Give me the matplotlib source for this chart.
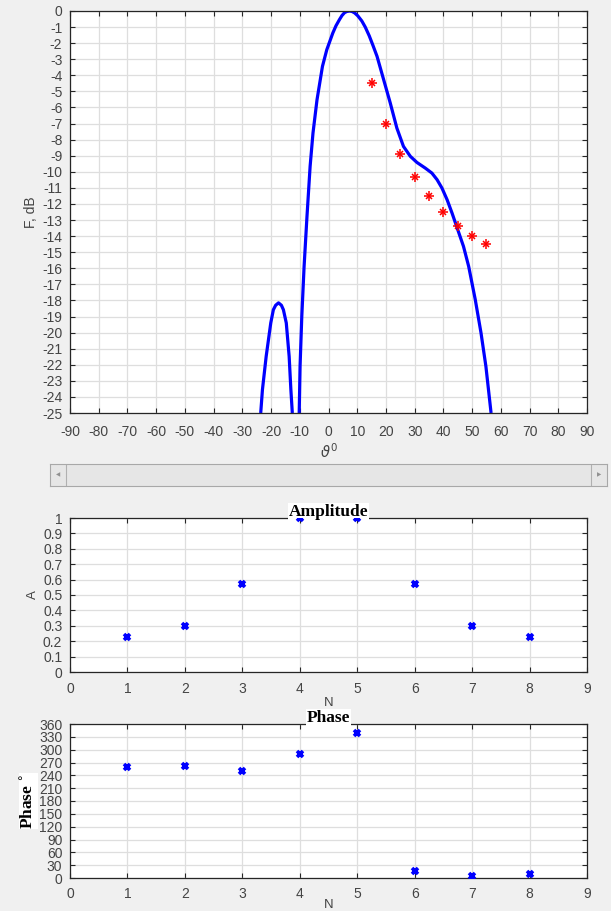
import matplotlib
matplotlib.use('Agg')
import matplotlib.pyplot as plt
import numpy as np

plt.rcParams['axes.unicode_minus'] = False
plt.rcParams['font.family'] = ['Liberation Sans', 'DejaVu Sans']

# pattern (side lobe and main lobe, dB)
side_theta = [-23.6, -23.0, -21.7, -20.1, -19.2, -18.4, -17.4, -16.4, -15.7, -14.7, -13.7, -13.1, -12.6]
side_db = [-25.0, -23.55, -21.48, -19.4, -18.58, -18.3, -18.15, -18.3, -18.58, -19.4, -21.48, -23.55, -25.0]

main_theta = [-10.2, -9.9, -9.3, -8.5, -7.5, -6.4, -5.4, -4.0, -2.1, -0.6, 1.5, 2.6, 3.8, 4.7, 5.6, 6.4,
              7.3, 8.2, 9.1, 10.2, 11.6, 12.8, 14.2, 15.5, 16.9, 19.2, 21.5, 23.8, 26.1, 28.5, 30.8,
              33.7, 36.0, 37.8, 39.5, 41.3, 43.0, 45.0, 47.0, 48.8, 51.1, 53.1, 54.8, 56.6]
main_db = [-25.0, -22.1, -19.0, -15.9, -12.8, -9.66, -7.59, -5.52, -3.44, -2.41, -1.37, -0.92, -0.54, -0.28,
           -0.1, -0.03, 0.0, -0.03, -0.12, -0.3, -0.62, -1.0, -1.55, -2.15, -2.82, -4.27, -5.72, -7.28,
           -8.42, -9.04, -9.42, -9.77, -10.08, -10.49, -11.01, -11.74, -12.56, -13.6, -14.64, -15.88,
           -17.95, -20.02, -22.1, -25.0]

# target points (red stars)
target_theta = [15, 20, 25, 30, 35, 40, 45, 50, 55]
target_db = [-4.5, -7.0, -8.9, -10.3, -11.5, -12.5, -13.4, -14.0, -14.5]

# element excitation
elem_n = [1, 2, 3, 4, 5, 6, 7, 8]
elem_amp = [0.227, 0.301, 0.569, 1.0, 1.0, 0.569, 0.301, 0.227]
elem_phase = [260.5, 262.8, 250.4, 289.2, 339.8, 17.1, 5.4, 8.6]

W, H = 611, 911
bg = '#f0f0f0'
txt = '#444444'
gridc = '#dedede'

fig = plt.figure(figsize=(W / 100, H / 100), dpi=100, facecolor=bg)


def box(x0, y0, x1, y1):
    return [x0 / W, 1 - y1 / H, (x1 - x0) / W, (y1 - y0) / H]


def style(ax, xpad):
    ax.set_facecolor('white')
    for s in ax.spines.values():
        s.set_color('#262626')
        s.set_linewidth(0.9)
    ax.tick_params(direction='in', length=3.5, width=0.8, color='#262626',
                   labelcolor=txt, labelsize=10, top=True, right=True, pad=5.5)
    ax.tick_params(axis='x', pad=xpad)
    ax.grid(True, color=gridc, linewidth=0.9)
    ax.set_axisbelow(True)


# ---- pattern ----
ax1 = fig.add_axes(box(70, 11, 587, 413))
style(ax1, 9)
ax1.plot(side_theta, side_db, color='#0000ff', lw=2.3, solid_capstyle='butt')
ax1.plot(main_theta, main_db, color='#0000ff', lw=2.3, solid_capstyle='butt')
# matlab style asterisk = plus + cross
ax1.plot(target_theta, target_db, ls='none', marker='+', ms=6.5, mew=1.1, color='#ff0000')
ax1.plot(target_theta, target_db, ls='none', marker='x', ms=5, mew=1.1, color='#ff0000')
ax1.set_xlim(-90, 90)
ax1.set_ylim(-25, 0)
ax1.set_xticks(np.arange(-90, 91, 10))
ax1.set_yticks(np.arange(-25, 1, 1))
ax1.set_ylabel('F, dB', fontsize=10, color=txt, labelpad=3)
ax1.set_xlabel(r'$\vartheta^0$', fontsize=10.5, color=txt, labelpad=2)

# ---- scrollbar (GUI slider under the pattern) ----
sb = fig.add_axes(box(50, 464, 607, 486))
sb.set_facecolor('#e6e6e6')
sb.set_xticks([])
sb.set_yticks([])
for s in sb.spines.values():
    s.set_color('#a8a8a8')
    s.set_linewidth(0.8)
sb.set_xlim(0, 1)
sb.set_ylim(0, 1)
sb.axvline(16 / 557, color='#b0b0b0', lw=0.8)
sb.axvline(1 - 16 / 557, color='#b0b0b0', lw=0.8)
sb.text(8 / 557, 0.5, '\u25c0', fontsize=4, color='#909090', ha='center', va='center',
        family='DejaVu Sans')
sb.text(1 - 8 / 557, 0.5, '\u25b6', fontsize=4, color='#909090', ha='center', va='center',
        family='DejaVu Sans')

wbox = dict(facecolor='white', edgecolor='none', pad=0.5)
title_kw = dict(fontsize=12.5, fontweight='bold', family='Liberation Serif', color='black',
                bbox=wbox)

# ---- amplitude ----
ax2 = fig.add_axes(box(70, 518, 587, 672))
style(ax2, 7)
ax2.plot(elem_n, elem_amp, ls='none', marker='x', ms=5, mew=2.6, color='#0000ff', zorder=6)
ax2.set_xlim(0, 9)
ax2.set_ylim(0, 1)
ax2.set_xticks(range(0, 10))
ax2.set_yticks(np.arange(0, 1.01, 0.1))
ax2.set_yticklabels(['0', '0.1', '0.2', '0.3', '0.4', '0.5', '0.6', '0.7', '0.8', '0.9', '1'])
ax2.set_title('Amplitude', pad=1.5, **title_kw)
ax2.set_xlabel('N', fontsize=9.5, color=txt, labelpad=1)
ax2.set_ylabel('A', fontsize=9.5, color=txt, labelpad=3)

# ---- phase ----
ax3 = fig.add_axes(box(70, 724, 587, 878))
style(ax3, 6.5)
ax3.plot(elem_n, elem_phase, ls='none', marker='x', ms=5, mew=2.6, color='#0000ff', zorder=6)
ax3.set_xlim(0, 9)
ax3.set_ylim(0, 360)
ax3.set_xticks(range(0, 10))
ax3.set_yticks(np.arange(0, 361, 30))
ax3.set_title('Phase', pad=1.5, **title_kw)
ax3.set_xlabel('N', fontsize=9.5, color=txt, labelpad=-1.5)
ax3.set_ylabel(r'Phase $^{\circ}$', fontsize=12.5, fontweight='bold', family='Liberation Serif',
               color='black', bbox=wbox, labelpad=2)
ax3.yaxis.set_label_coords(-33 / 517, 0.5)

fig.savefig('out.png', dpi=100, facecolor=bg)
